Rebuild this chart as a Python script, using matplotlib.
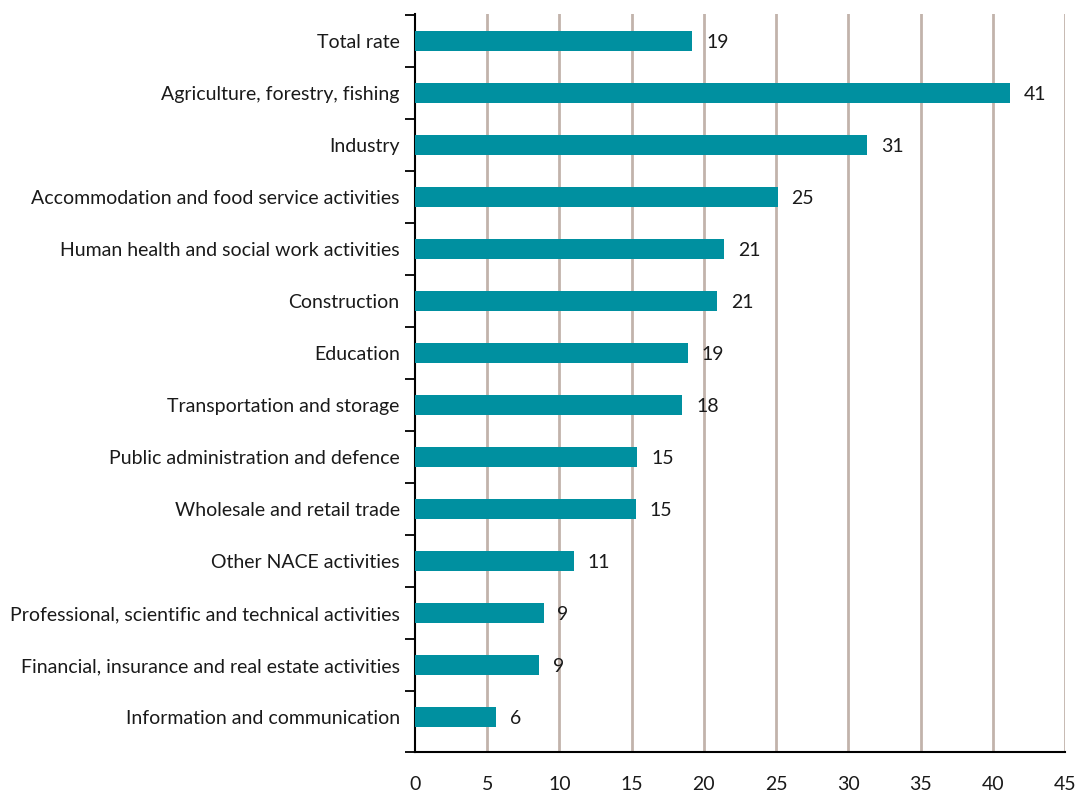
import matplotlib.pyplot as plt
import numpy as np
from matplotlib.ticker import FixedLocator

plt.rcParams["font.family"] = ["Lato", "DejaVu Sans"]

categories = [
    "Total rate",
    "Agriculture, forestry, fishing",
    "Industry",
    "Accommodation and food service activities",
    "Human health and social work activities",
    "Construction",
    "Education",
    "Transportation and storage",
    "Public administration and defence",
    "Wholesale and retail trade",
    "Other NACE activities",
    "Professional, scientific and technical activities",
    "Financial, insurance and real estate activities",
    "Information and communication",
]
values = [19.2, 41.2, 31.3, 25.1, 21.4, 20.9, 18.9, 18.5, 15.4, 15.3, 11.0, 8.9, 8.6, 5.6]
x_ticks = [0, 5, 10, 15, 20, 25, 30, 35, 40, 45]

bar_color = "#0090a0"
grid_color = "#c2b3ab"
text_color = "#1a1a1a"
fs = 14

fig = plt.figure(figsize=(10.82, 7.98), dpi=100)
ax = fig.add_axes([0.3835, 0.0576, 0.6008, 0.9248])

n = len(categories)
y = np.arange(n)
ax.barh(y, values, height=0.38, color=bar_color, zorder=3)
for yi, v in zip(y, values):
    ax.annotate(f"{v:.0f}", (v, yi), xytext=(10, -1), textcoords="offset points",
                va="center", ha="left", fontsize=fs, color=text_color)

y_bottom = n - 1 + 0.67
ax.set_ylim(y_bottom, -0.52)
ax.set_xlim(0, 45)

# vertical grid lines at each 5 units
for xt in x_ticks[1:]:
    ax.axvline(xt, color=grid_color, lw=2, zorder=1)

ax.set_yticks(y)
ax.set_yticklabels(categories, fontsize=fs, color=text_color)
ax.yaxis.set_minor_locator(FixedLocator(list(np.arange(-0.5, n - 1, 1)) + [y_bottom]))
ax.tick_params(axis="y", which="major", length=0, pad=11)
ax.tick_params(axis="y", which="minor", length=7, width=1.3, direction="out")

ax.set_xticks(x_ticks)
ax.set_xticklabels([str(t) for t in x_ticks], fontsize=fs, color=text_color)
ax.xaxis.set_minor_locator(FixedLocator([0]))
ax.tick_params(axis="x", which="major", length=0, pad=17)
ax.tick_params(axis="x", which="minor", length=8, width=1.3, direction="out")

for side in ("top", "right"):
    ax.spines[side].set_visible(False)
ax.spines["left"].set_linewidth(1.5)
ax.spines["bottom"].set_linewidth(1.5)

fig.savefig("out.png", dpi=100)
